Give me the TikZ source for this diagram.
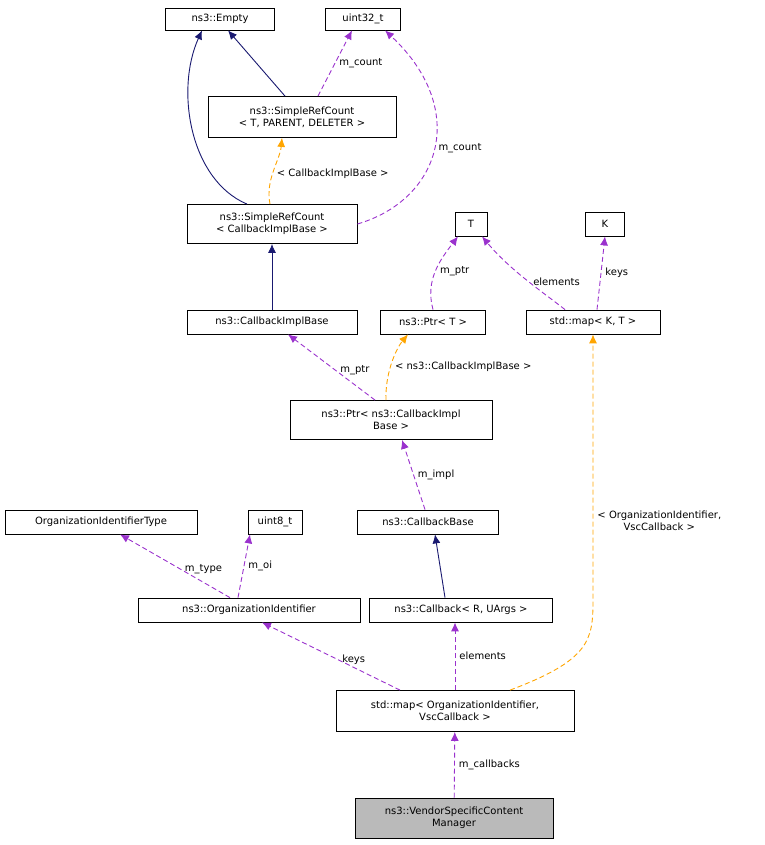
\documentclass[tikz,border=0pt]{standalone}
\usepackage{fontspec}
\setmainfont{DejaVu Sans}
\usetikzlibrary{arrows.meta}
\definecolor{inhcol}{HTML}{191970}
\definecolor{usecol}{HTML}{9A32CD}
\definecolor{tplcol}{HTML}{FFA500}
\tikzset{
  Box/.style = { rectangle, draw, line width=0.8pt, inner sep=1pt, align=center,
                 font = \fontsize{10}{12}\selectfont },
  Inherit/.style = { draw=inhcol, line width=0.9pt, -{Latex[length=9pt,width=8pt]} },
  Uses/.style = { draw=usecol, line width=0.9pt, dash pattern=on 5pt off 3pt, -{Latex[length=9pt,width=8pt,fill=usecol]} },
  Tmpl/.style = { draw=tplcol, line width=0.9pt, dash pattern=on 5pt off 3pt, -{Latex[length=9pt,width=8pt,fill=tplcol]} },
  EdgeLabel/.style = { font = \fontsize{10}{12}\selectfont, align=center, inner sep=4pt }
}

\begin{document}
\begin{tikzpicture}[x=1pt,y=-1pt]
  \useasboundingbox (0,0) rectangle (764,845);
  \node[Box, minimum width=109, minimum height=22] (empty) at (220,19) {ns3::Empty};
  \node[Box, minimum width=75, minimum height=22] (uint32) at (363,19) {uint32\_t};
  \node[Box, minimum width=188, minimum height=41] (srcT) at (302,117) {ns3::SimpleRefCount\\\textless{} T, PARENT, DELETER \textgreater};
  \node[Box, minimum width=170, minimum height=39] (srcCib) at (272,224) {ns3::SimpleRefCount\\\textless{} CallbackImplBase \textgreater};
  \node[Box, minimum width=32, minimum height=24] (tT) at (471,224) {T};
  \node[Box, minimum width=39, minimum height=24] (tK) at (605,224) {K};
  \node[Box, minimum width=170, minimum height=24] (cib) at (272,322) {ns3::CallbackImplBase};
  \node[Box, minimum width=105, minimum height=24] (ptrT) at (433,322) {ns3::Ptr\textless{} T \textgreater};
  \node[Box, minimum width=134, minimum height=24] (mapKT) at (593,322) {std::map\textless{} K, T \textgreater};
  \node[Box, minimum width=202, minimum height=39] (ptrCib) at (391,420) {ns3::Ptr\textless{} ns3::CallbackImpl\\Base \textgreater};
  \node[Box, minimum width=192, minimum height=24] (oiType) at (101,522) {OrganizationIdentifierType};
  \node[Box, minimum width=54, minimum height=24] (uint8) at (275,522) {uint8\_t};
  \node[Box, minimum width=141, minimum height=24] (cbBase) at (428,522) {ns3::CallbackBase};
  \node[Box, minimum width=222, minimum height=24] (oi) at (249,610) {ns3::OrganizationIdentifier};
  \node[Box, minimum width=183, minimum height=24] (cb) at (461,610) {ns3::Callback\textless{} R, UArgs \textgreater};
  \node[Box, minimum width=238, minimum height=41] (mapOi) at (455,711) {std::map\textless{} OrganizationIdentifier,\\VscCallback \textgreater};
  \node[Box, fill=black!27, minimum width=198, minimum height=40] (vscm) at (454,818) {ns3::VendorSpecificContent\\Manager};

  % inheritance
  \draw[Inherit] ([xshift=-25pt]srcCib.north) .. controls (190,180) and (175,90) .. ([xshift=-18pt]empty.south);
  \draw[Inherit] ([xshift=-17pt]srcT.north) -- ([xshift=8pt]empty.south);
  \draw[Inherit] (cib) -- (srcCib);
  \draw[Inherit] ([xshift=-16pt]cb.north) -- ([xshift=7pt]cbBase.south);

  % usage
  \draw[Uses] ([xshift=16pt]srcT.north) -- node[EdgeLabel, right, pos=0.5] {m\_count} ([xshift=-11pt]uint32.south);
  \draw[Uses] (srcCib.east) .. controls (440,200) and (470,110) .. node[EdgeLabel, right, pos=0.5] {m\_count} ([xshift=22pt]uint32.south);
  \draw[Uses] (ptrT.north) .. controls (425,280) and (440,260) .. node[EdgeLabel, right] {m\_ptr} ([xshift=-13pt]tT.south);
  \draw[Uses] ([xshift=-28pt]mapKT.north) .. controls (540,290) and (510,270) .. node[EdgeLabel, right, pos=0.45] {elements} ([xshift=11pt]tT.south);
  \draw[Uses] ([xshift=4pt]mapKT.north) -- node[EdgeLabel, right] {keys} (tK.south);
  \draw[Uses] ([xshift=-16pt]ptrCib.north) -- node[EdgeLabel, right, pos=0.45] {m\_ptr} ([xshift=16pt]cib.south);
  \draw[Uses] ([xshift=-3pt]cbBase.north) -- node[EdgeLabel, right] {m\_impl} ([xshift=11pt]ptrCib.south);
  \draw[Uses] ([xshift=-19pt]oi.north) -- node[EdgeLabel, right, pos=0.45] {m\_type} ([xshift=19pt]oiType.south);
  \draw[Uses] ([xshift=-11pt]oi.north) -- node[EdgeLabel, right] {m\_oi} ([xshift=-25pt]uint8.south);
  \draw[Uses] ([xshift=-55pt]mapOi.north) -- node[EdgeLabel, right, pos=0.45] {keys} ([xshift=13pt]oi.south);
  \draw[Uses] (mapOi.north) -- node[EdgeLabel, right] {elements} ([xshift=-6pt]cb.south);
  \draw[Uses] (vscm) -- node[EdgeLabel, right] {m\_callbacks} (mapOi);

  % template instances
  \draw[Tmpl] ([xshift=-2pt]srcCib.north) .. controls (265,180) and (280,160) .. node[EdgeLabel, right, pos=0.45] {\textless{} CallbackImplBase \textgreater} ([xshift=-20pt]srcT.south);
  \draw[Tmpl] ([xshift=-5pt]ptrCib.north) .. controls (385,375) and (395,350) .. node[EdgeLabel, right, pos=0.45] {\textless{} ns3::CallbackImplBase \textgreater} ([xshift=-25pt]ptrT.south);
  \draw[Tmpl] ([xshift=55pt]mapOi.north) .. controls (590,660) and (593,640) .. (593,600) -- node[EdgeLabel, right, pos=0.3] {\textless{} OrganizationIdentifier,\\VscCallback \textgreater} (mapKT.south);
\end{tikzpicture}
\end{document}
